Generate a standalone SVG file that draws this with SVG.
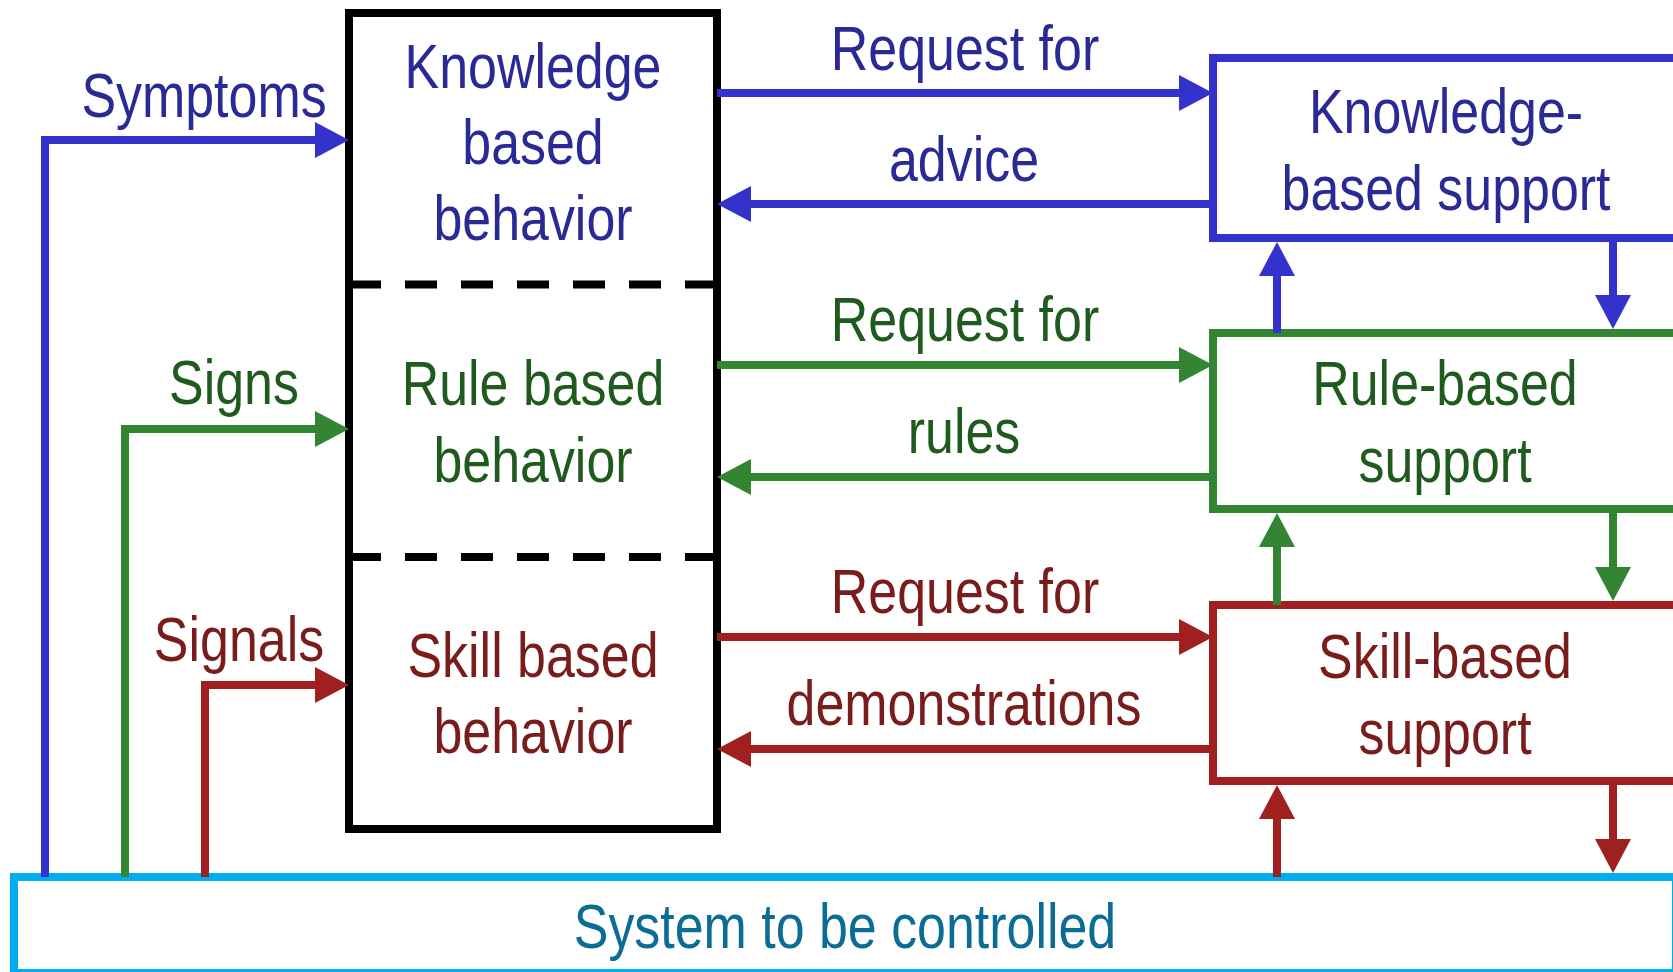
<svg xmlns="http://www.w3.org/2000/svg" width="1673" height="972" viewBox="0 0 1673 972">
<style>
text{font-family:"Liberation Sans",Arial,sans-serif;font-size:63px;text-anchor:middle}
.tb{fill:#2a2a96}.tg{fill:#1f5a1f}.tr{fill:#7a1c1c}.ts{fill:#0b6c95}
.box{fill:#fff;stroke-width:8}
.ln{fill:none;stroke-width:8;stroke-linejoin:miter}
.b{stroke:#3333cc}.g{stroke:#338433}.r{stroke:#a02020}.k{stroke:#000}.c{stroke:#00aeef}
.dash{stroke:#000;stroke-width:8;stroke-dasharray:32 24}
</style>
<defs>
<marker id="ab" markerUnits="userSpaceOnUse" viewBox="0 0 34 36" refX="0" refY="18" markerWidth="34" markerHeight="36" orient="auto"><path d="M0,0L34,18L0,36z" fill="#3333cc"/></marker>
<marker id="ag" markerUnits="userSpaceOnUse" viewBox="0 0 34 36" refX="0" refY="18" markerWidth="34" markerHeight="36" orient="auto"><path d="M0,0L34,18L0,36z" fill="#338433"/></marker>
<marker id="ar" markerUnits="userSpaceOnUse" viewBox="0 0 34 36" refX="0" refY="18" markerWidth="34" markerHeight="36" orient="auto"><path d="M0,0L34,18L0,36z" fill="#a02020"/></marker>
</defs>

<g id="system">
<rect class="box c" x="14" y="877" width="1662" height="96"/>
<text class="ts" transform="translate(845,948) scale(0.824,1)">System to be controlled</text>
</g>

<g id="operator">
<rect class="box k" x="349" y="13" width="368" height="816"/>
<line class="dash" x1="349" y1="284.5" x2="717" y2="284.5"/>
<line class="dash" x1="349" y1="557" x2="717" y2="557"/>
</g>

<g id="knowledge-behavior">
<text class="tb" transform="translate(533,88) scale(0.824,1)">Knowledge</text>
<text class="tb" transform="translate(533,164) scale(0.824,1)">based</text>
<text class="tb" transform="translate(533,240) scale(0.824,1)">behavior</text>
</g>
<g id="rule-behavior">
<text class="tg" transform="translate(533,405) scale(0.824,1)">Rule based</text>
<text class="tg" transform="translate(533,482) scale(0.824,1)">behavior</text>
</g>
<g id="skill-behavior">
<text class="tr" transform="translate(533,677) scale(0.824,1)">Skill based</text>
<text class="tr" transform="translate(533,753) scale(0.824,1)">behavior</text>
</g>

<g id="knowledge-support">
<rect class="box b" x="1213" y="58" width="470" height="180"/>
<text class="tb" transform="translate(1446,133) scale(0.824,1)">Knowledge-</text>
<text class="tb" transform="translate(1446,210) scale(0.824,1)">based support</text>
</g>
<g id="rule-support">
<rect class="box g" x="1213" y="333" width="470" height="176"/>
<text class="tg" transform="translate(1445,405) scale(0.824,1)">Rule-based</text>
<text class="tg" transform="translate(1445,482) scale(0.824,1)">support</text>
</g>
<g id="skill-support">
<rect class="box r" x="1213" y="605" width="470" height="176"/>
<text class="tr" transform="translate(1445,678) scale(0.824,1)">Skill-based</text>
<text class="tr" transform="translate(1445,754) scale(0.824,1)">support</text>
</g>

<g id="connectors">
<path class="ln b" d="M45,877V140H315" marker-end="url(#ab)"/>
<path class="ln g" d="M125,877V429H315" marker-end="url(#ag)"/>
<path class="ln r" d="M205,877V685H315" marker-end="url(#ar)"/>

<path class="ln b" d="M717,93H1179" marker-end="url(#ab)"/>
<path class="ln b" d="M1213,204H751" marker-end="url(#ab)"/>
<path class="ln g" d="M717,365H1179" marker-end="url(#ag)"/>
<path class="ln g" d="M1213,477H751" marker-end="url(#ag)"/>
<path class="ln r" d="M717,637H1179" marker-end="url(#ar)"/>
<path class="ln r" d="M1213,749H751" marker-end="url(#ar)"/>

<path class="ln b" d="M1277,333V276" marker-end="url(#ab)"/>
<path class="ln b" d="M1613,242V295" marker-end="url(#ab)"/>
<path class="ln g" d="M1277,605V547" marker-end="url(#ag)"/>
<path class="ln g" d="M1613,513V567" marker-end="url(#ag)"/>
<path class="ln r" d="M1277,877V819" marker-end="url(#ar)"/>
<path class="ln r" d="M1613,785V839" marker-end="url(#ar)"/>
</g>

<g id="labels">
<text class="tb" transform="translate(204,117) scale(0.824,1)">Symptoms</text>
<text class="tg" transform="translate(234,404) scale(0.824,1)">Signs</text>
<text class="tr" transform="translate(239,661) scale(0.824,1)">Signals</text>
<text class="tb" transform="translate(965,70) scale(0.824,1)">Request for</text>
<text class="tb" transform="translate(964,181) scale(0.824,1)">advice</text>
<text class="tg" transform="translate(965,341) scale(0.824,1)">Request for</text>
<text class="tg" transform="translate(964,453) scale(0.824,1)">rules</text>
<text class="tr" transform="translate(965,613) scale(0.824,1)">Request for</text>
<text class="tr" transform="translate(964,725) scale(0.824,1)">demonstrations</text>
</g>
</svg>
